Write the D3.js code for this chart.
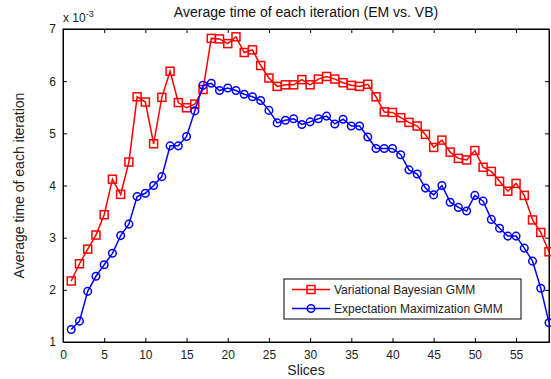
<!DOCTYPE html>
<html>
<head>
<meta charset="utf-8">
<script src="https://d3js.org/d3.v7.min.js"></script>
<style>
  body { margin: 0; background: #fff; }
  svg { font-family: "Liberation Sans", Arial, sans-serif; }
  .axis path { stroke: #000; }
  .axis line { stroke: #000; }
  .axis text { fill: #222; font-size: 12px; }
</style>
</head>
<body>
<div id="main"></div>
<script>
// data (values in units of 1e-3 s)
var slices = d3.range(1, 60);
var vbValues = [2.17, 2.5, 2.78, 3.05, 3.44, 4.12, 3.83, 4.45, 5.7, 5.6,
  4.8, 5.69, 6.19, 5.59, 5.49, 5.56, 5.84, 6.82, 6.81, 6.72,
  6.85, 6.55, 6.6, 6.3, 6.06, 5.9, 5.93, 5.93, 6.03, 5.93,
  6.04, 6.09, 6.04, 5.97, 5.92, 5.9, 5.94, 5.7, 5.41, 5.4,
  5.3, 5.21, 5.14, 4.98, 4.73, 4.87, 4.64, 4.52, 4.49, 4.67,
  4.35, 4.27, 4.08, 3.89, 4.04, 3.81, 3.34, 3.1, 2.73];
var emValues = [1.24, 1.4, 1.97, 2.26, 2.48, 2.7, 3.04, 3.26, 3.79, 3.85,
  4.0, 4.17, 4.76, 4.76, 4.94, 5.43, 5.92, 5.96, 5.82, 5.87,
  5.82, 5.75, 5.7, 5.63, 5.44, 5.2, 5.25, 5.28, 5.17, 5.22,
  5.28, 5.33, 5.18, 5.27, 5.14, 5.14, 4.93, 4.71, 4.71, 4.71,
  4.59, 4.3, 4.22, 3.95, 3.82, 4.0, 3.68, 3.58, 3.51, 3.81,
  3.7, 3.35, 3.18, 3.03, 3.03, 2.8, 2.55, 2.03, 1.37];
var xTicks = d3.range(0, 60, 5);
var yTicks = [1, 2, 3, 4, 5, 6, 7];
var seriesNames = ["Variational Bayesian GMM", "Expectation Maximization GMM"];
var seriesColors = ["#ff0000", "#0000ff"];

var W = 551, H = 379;
var pLeft = 63, pRight = 549, pTop = 29, pBottom = 342;

var svg = d3.select("#main").append("svg")
  .attr("width", W)
  .attr("height", H);

var x = d3.scaleLinear().domain([0, 59]).range([pLeft, pRight]);
var y = d3.scaleLinear().domain([1, 7]).range([pBottom, pTop]);

// axes, ticks point inward like matlab
svg.append("g").attr("class", "axis")
  .attr("transform", "translate(0," + pBottom + ")")
  .call(d3.axisBottom(x).tickValues(xTicks).tickSizeInner(-4).tickSizeOuter(0).tickPadding(6))
  .selectAll("text").attr("dy", "0.95em");
svg.append("g").attr("class", "axis")
  .attr("transform", "translate(0," + pTop + ")")
  .call(d3.axisTop(x).tickValues(xTicks).tickSizeInner(-4).tickSizeOuter(0).tickFormat(""));
svg.append("g").attr("class", "axis")
  .attr("transform", "translate(" + pLeft + ",0)")
  .call(d3.axisLeft(y).tickValues(yTicks).tickFormat(d3.format("d")).tickSizeInner(-4).tickSizeOuter(0).tickPadding(7));
svg.append("g").attr("class", "axis")
  .attr("transform", "translate(" + pRight + ",0)")
  .call(d3.axisRight(y).tickValues(yTicks).tickSizeInner(-4).tickSizeOuter(0).tickFormat(""));

// box
svg.append("rect")
  .attr("x", pLeft).attr("y", pTop)
  .attr("width", pRight - pLeft).attr("height", pBottom - pTop)
  .style("fill", "none").style("stroke", "#000").style("stroke-width", 1);

// exponent
var ex = svg.append("text").attr("x", pLeft).attr("y", 22)
  .style("font-size", "12px").style("fill", "#222");
ex.append("tspan").text("x 10");
ex.append("tspan").attr("dy", -5).style("font-size", "9px").text("-3");

// titles
svg.append("text").attr("x", 306).attr("y", 17)
  .attr("text-anchor", "middle").style("font-size", "14px").style("fill", "#111")
  .text("Average time of each iteration (EM vs. VB)");
svg.append("text").attr("x", 306).attr("y", 375)
  .attr("text-anchor", "middle").style("font-size", "14px").style("fill", "#222")
  .text("Slices");
svg.append("text")
  .attr("transform", "translate(24," + ((pTop + pBottom) / 2) + ") rotate(-90)")
  .attr("text-anchor", "middle").style("font-size", "14px").style("fill", "#222")
  .text("Average time of each iteration");

var line = d3.line().x(function(d, i) { return x(slices[i]); }).y(function(d) { return y(d); });

// VB series, squares
svg.append("path").datum(vbValues)
  .attr("d", line).style("fill", "none").style("stroke", seriesColors[0]).style("stroke-width", 1.5);
svg.selectAll(".sq").data(vbValues).enter().append("rect")
  .attr("class", "sq")
  .attr("x", function(d, i) { return x(slices[i]) - 4; })
  .attr("y", function(d) { return y(d) - 4; })
  .attr("width", 8).attr("height", 8)
  .style("fill", "none").style("stroke", seriesColors[0]).style("stroke-width", 1.5);

// EM series, circles
svg.append("path").datum(emValues)
  .attr("d", line).style("fill", "none").style("stroke", seriesColors[1]).style("stroke-width", 1.5);
svg.selectAll(".ci").data(emValues).enter().append("circle")
  .attr("class", "ci")
  .attr("cx", function(d, i) { return x(slices[i]); })
  .attr("cy", function(d) { return y(d); })
  .attr("r", 3.8)
  .style("fill", "none").style("stroke", seriesColors[1]).style("stroke-width", 1.5);

// legend
var lg = svg.append("g");
lg.append("rect").attr("x", 284).attr("y", 279).attr("width", 237).attr("height", 40)
  .style("fill", "#fff").style("stroke", "#000").style("stroke-width", 1);
seriesNames.forEach(function(name, i) {
  var ly = 289.5 + i * 19;
  lg.append("line").attr("x1", 292).attr("x2", 330).attr("y1", ly).attr("y2", ly)
    .style("stroke", seriesColors[i]).style("stroke-width", 1.5);
  if (i === 0) {
    lg.append("rect").attr("x", 307).attr("y", ly - 4).attr("width", 8).attr("height", 8)
      .style("fill", "none").style("stroke", seriesColors[i]).style("stroke-width", 1.5);
  } else {
    lg.append("circle").attr("cx", 311).attr("cy", ly).attr("r", 3.8)
      .style("fill", "none").style("stroke", seriesColors[i]).style("stroke-width", 1.5);
  }
  lg.append("text").attr("x", 334).attr("y", ly + 4)
    .style("font-size", "12px").style("fill", "#222").text(name);
});
</script>
</body>
</html>
